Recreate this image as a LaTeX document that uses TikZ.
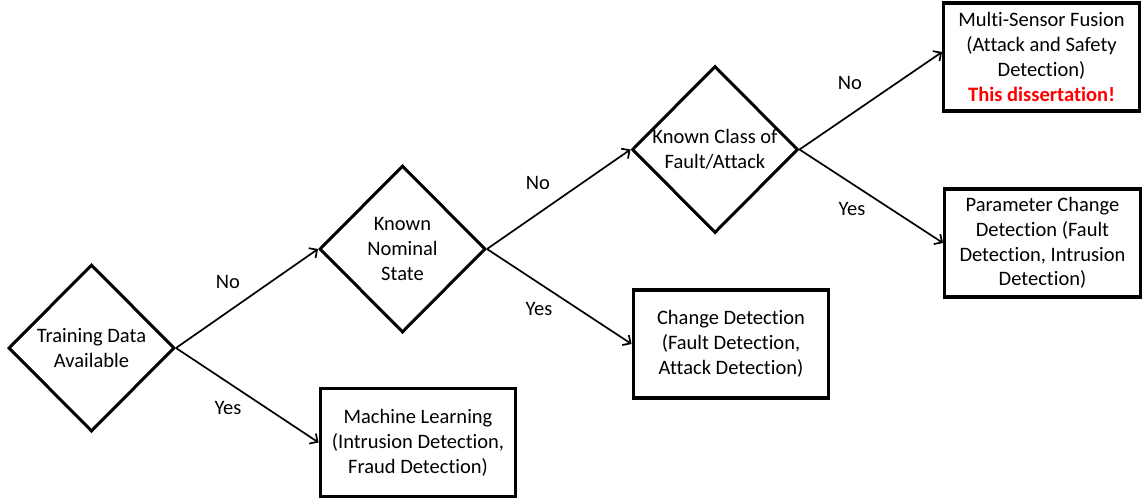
\documentclass[tikz,border=0pt]{standalone}
\usepackage{fontspec}
\setmainfont{Carlito}[Ligatures={NoCommon,NoContextual}]
\usetikzlibrary{shapes.geometric,arrows.meta}

\tikzset{
  txt/.style={font=\fontsize{20.5}{24.8}\selectfont, align=center, inner sep=0pt},
  decision/.style={shape=diamond, draw, line width=3pt, minimum width=166pt,
    minimum height=167pt, inner sep=0pt},
  outcome/.style={draw, line width=3.4pt, minimum width=195.5pt,
    minimum height=108pt, txt},
  flow/.style={line width=1.7pt, -{Straight Barb[length=6pt,width=12pt,line width=1.7pt]}},
  answer/.style={txt},
}

\begin{document}
\begin{tikzpicture}[x=1pt, y=-1pt]
  \useasboundingbox (0,0) rectangle (1146,501);

  % decisions
  \node[decision, label={[txt]center:Training Data\\Available}] (d1) at (91.5,348) {};
  \node[decision, label={[txt]center:Known\\Nominal\\State}] (d2) at (402.5,249) {};
  \node[decision, label={[txt]center:Known Class of\\Fault/Attack}] (d3) at (715,149.5) {};

  % outcomes
  \node[outcome] (ml) at (418,442.5) {Machine Learning\\(Intrusion Detection,\\Fraud Detection)};
  \node[outcome] (cd) at (731,344) {Change Detection\\(Fault Detection,\\Attack Detection)};
  \node[outcome] (msf) at (1041.5,57) {Multi-Sensor Fusion\\(Attack and Safety\\Detection)\\
    \textcolor[rgb]{1,0,0}{\bfseries This dissertation!}};
  \node[outcome] (pcd) at (1042.5,243) {Parameter Change\\Detection (Fault\\Detection, Intrusion\\Detection)};

  % connectors
  \draw[flow] (d1.east) -- (d2.west);
  \draw[flow] (d1.east) -- (ml.west);
  \draw[flow] (d2.east) -- (d3.west);
  \draw[flow] (d2.east) -- (cd.west);
  \draw[flow] (d3.east) -- ([yshift=5pt]msf.west);
  \draw[flow] (d3.east) -- (pcd.west);

  % branch answers
  \node[answer] (a1) at (228,282) {No};
  \node[answer] (a2) at (228,408) {Yes};
  \node[answer] (a3) at (538,183) {No};
  \node[answer] (a4) at (539,309) {Yes};
  \node[answer] (a5) at (850,83) {No};
  \node[answer] (a6) at (852,209) {Yes};
\end{tikzpicture}
\end{document}
